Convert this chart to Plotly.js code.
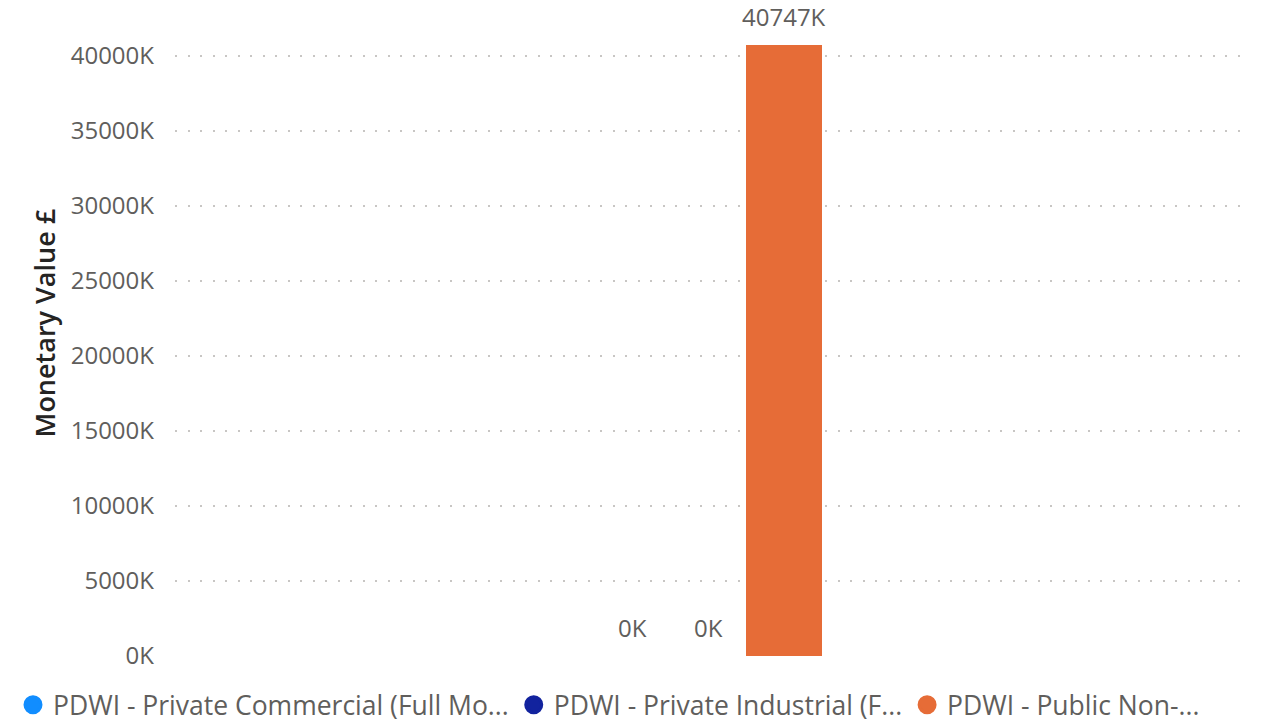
<!DOCTYPE html>
<html>
<head>
<meta charset="utf-8">
<script src="https://cdn.plot.ly/plotly-3.0.1.min.js"></script>
<style>html,body{margin:0;padding:0;background:#fff;}#chart{width:1267px;height:722px;}</style>
</head>
<body>
<div id="chart"></div>
<script>
// ---- data ----
const seriesNames = ["PDWI - Private Commercial (Full Mo...", "PDWI - Private Industrial (F...", "PDWI - Public Non-..."];
const seriesValuesK = [0, 0, 40747];
const yTickValsK = [0, 5000, 10000, 15000, 20000, 25000, 30000, 35000, 40000];
const yTickText = ["0K", "5000K", "10000K", "15000K", "20000K", "25000K", "30000K", "35000K", "40000K"];
const yAxisTitle = "Monetary Value £";

// ---- style ----
const seriesColors = ["#118DFF", "#12239E", "#E66C37"];
const FONT = "'Open Sans', 'Noto Sans', sans-serif";
const GRAY = "#605E5C";

const traces = [];
seriesNames.forEach((name, i) => {
  traces.push({
    type: "bar",
    x: [i],
    y: [seriesValuesK[i]],
    width: 1,
    name: name,
    marker: { color: seriesColors[i] },
    showlegend: false,
    hoverinfo: "skip"
  });
});
seriesNames.forEach((name, i) => {
  traces.push({
    type: "scatter",
    mode: "markers",
    x: [null],
    y: [null],
    name: name,
    marker: { color: seriesColors[i], size: 16, symbol: "circle", line: { color: seriesColors[i], width: 3 } },
    showlegend: true,
    hoverinfo: "skip"
  });
});

const annotations = seriesNames.map((name, i) => ({
  x: i,
  y: seriesValuesK[i],
  xref: "x",
  yref: "y",
  text: seriesValuesK[i] + "K",
  showarrow: false,
  yanchor: "bottom",
  yshift: 10,
  font: { family: FONT, size: 24, color: GRAY }
}));

// rotated axis title (Power BI places it slightly above the axis centre)
annotations.push({
  xref: "paper",
  yref: "paper",
  x: (44 - 175) / 1073,
  y: (656 - 323.5) / 616,
  xanchor: "center",
  yanchor: "middle",
  textangle: -90,
  text: yAxisTitle,
  showarrow: false,
  font: { family: FONT, size: 27, color: "#252423", weight: 600 }
});

const layout = {
  width: 1267,
  height: 722,
  margin: { l: 175, r: 19, t: 40, b: 66, autoexpand: false },
  paper_bgcolor: "#ffffff",
  plot_bgcolor: "#ffffff",
  font: { family: FONT, color: GRAY },
  showlegend: true,
  xaxis: {
    range: [-6.0132, 8.105],
    showgrid: false,
    zeroline: false,
    showticklabels: false,
    showline: false,
    ticks: "",
    fixedrange: true
  },
  yaxis: {
    range: [0, 41066.7],
    tickvals: yTickValsK,
    ticktext: yTickText,
    tickfont: { family: FONT, size: 24, color: GRAY },
    ticklabelstandoff: 20,
    showgrid: true,
    gridcolor: "#C8C6C4",
    gridwidth: 2,
    griddash: "2px,10.5px",
    zeroline: false,
    showline: false,
    ticks: "",
    fixedrange: true
  },
  legend: {
    orientation: "h",
    xref: "paper",
    yref: "paper",
    x: (13 - 175) / 1073,
    xanchor: "left",
    y: (656 - 705) / 616,
    yanchor: "middle",
    font: { family: FONT, size: 26.5, color: GRAY },
    itemclick: false,
    itemdoubleclick: false,
    bgcolor: "rgba(0,0,0,0)"
  },
  annotations: annotations,
  bargap: 0
};

Plotly.newPlot("chart", traces, layout, { displayModeBar: false, staticPlot: true });
</script>
</body>
</html>
